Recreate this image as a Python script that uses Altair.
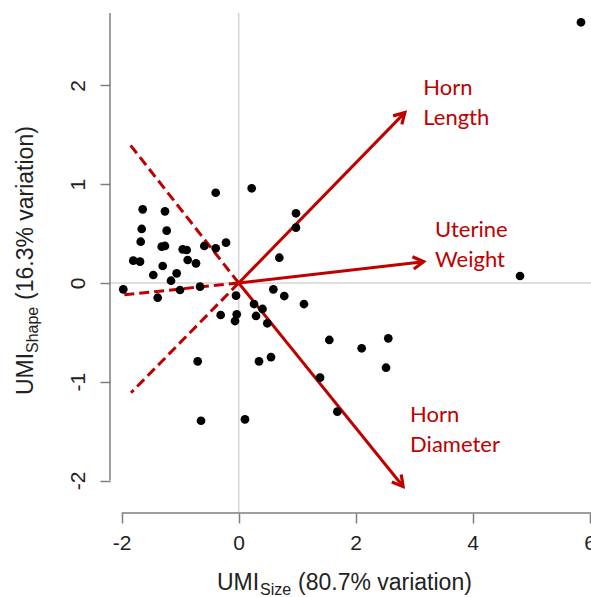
import math
import altair as alt
import pandas as pd

# ---------------- data ----------------
pc1 = [-0.393, 0.222, -1.641, -1.260, 0.979, -1.658, -1.231, 0.979, -1.675, -1.316,
       -1.260, -0.957, -0.889, -0.588, -0.393, -0.217, -1.802, -1.687, -0.872, -0.730,
       -1.299, 0.694, -1.460, -1.060, -1.157, -1.003, -0.661, -1.973, -1.385, -0.046,
       0.592, 0.779, 1.116, 0.262, 0.407, -0.308, -0.034, -0.063, 0.296, 0.489,
       1.549, -0.701, 0.347, 0.552, 1.390, 1.686, -0.644, 0.107, 2.102, 2.557,
       2.518, 4.809, 5.851]
pc2 = [0.914, 0.959, 0.746, 0.726, 0.706, 0.547, 0.530, 0.560, 0.418, 0.368,
       0.375, 0.341, 0.334, 0.375, 0.352, 0.408, 0.226, 0.216, 0.233, 0.199,
       0.172, 0.256, 0.081, 0.098, 0.023, -0.071, -0.037, -0.064, -0.149, -0.128,
       -0.064, -0.132, -0.213, -0.213, -0.263, -0.324, -0.317, -0.385, -0.334, -0.408,
       -0.577, -0.793, -0.793, -0.750, -0.959, -1.303, -1.395, -1.381, -0.661, -0.560,
       -0.858, 0.071, 2.640]

variables = ["Horn Length", "Uterine Weight", "Horn Diameter"]
arrow_x = [2.84, 3.16, 2.81]
arrow_y = [1.725, 0.216, -2.06]
dash_x = [-1.84, -2.0, -1.875]
dash_y = [-1.111, -0.122, 1.414]
label_text = ["Horn\nLength", "Uterine\nWeight", "Horn\nDiameter"]
label_x = [3.155, 3.356, 2.93]
label_y = [1.904, 0.466, -1.408]

x_ticks = [-2, 0, 2, 4, 6]
y_ticks = [-2, -1, 0, 1, 2]

x_title = ["UMI", "Size", "(80.7% variation)"]
y_title = ["UMI", "Shape", "(16.3% variation)"]

# ---------------- layout ----------------
W, H = 481, 500
X_DOM = [-2.2, 6.022]
Y_DOM = [-2.329, 2.734]
ppx = W / (X_DOM[1] - X_DOM[0])
ppy = H / (Y_DOM[1] - Y_DOM[0])

RED = "#BE0000"
AXC = "#7f7f7f"

xs = alt.Scale(domain=X_DOM, nice=False, zero=False)
ys = alt.Scale(domain=Y_DOM, nice=False, zero=False)

xa = alt.Axis(values=x_ticks, domain=False, grid=False, tickColor=AXC, tickWidth=1.5,
              tickSize=10, labelFontSize=21, labelFont="Liberation Sans", labelColor="#222222",
              labelPadding=9, labelFlush=False, labelOverlap=False, title=None,
              labelExpr="datum.value + ''")
ya = alt.Axis(values=y_ticks, domain=False, grid=False, tickColor=AXC, tickWidth=1.5,
              tickSize=10, labelFontSize=21, labelFont="Liberation Sans", labelColor="#222222",
              labelPadding=12, labelAngle=270, labelAlign="center", labelBaseline="bottom",
              labelFlush=False, labelOverlap=False, title=None,
              labelExpr="datum.value + ''")

pts = pd.DataFrame({"pc1": pc1, "pc2": pc2})
arr = pd.DataFrame({
    "var": variables, "x0": [0] * 3, "y0": [0] * 3,
    "ax": arrow_x, "ay": arrow_y, "dx": dash_x, "dy": dash_y,
    "lx": label_x, "ly": label_y, "lab": label_text,
})
arr["ang"] = [(math.degrees(math.atan2(-a_y * ppy, a_x * ppx)) + 360) % 360
              for a_x, a_y in zip(arrow_x, arrow_y)]

zero_df = pd.DataFrame({"v": [0]})

vline = alt.Chart(zero_df).mark_rule(color="#d4d4d4", strokeWidth=1.5).encode(
    x=alt.X("v:Q", scale=xs, axis=xa))
hline = alt.Chart(zero_df).mark_rule(color="#d4d4d4", strokeWidth=1.5).encode(
    y=alt.Y("v:Q", scale=ys, axis=ya))

ylo = pd.DataFrame({"lo": [y_ticks[0]]})
xlo = pd.DataFrame({"lo": [x_ticks[0]]})
yaxis_line = alt.Chart(ylo).mark_rule(color=AXC, strokeWidth=1.5).encode(
    x=alt.value(0), y=alt.Y("lo:Q", scale=ys, axis=ya), y2=alt.value(0))
xaxis_line = alt.Chart(xlo).mark_rule(color=AXC, strokeWidth=1.5).encode(
    y=alt.value(H), x=alt.X("lo:Q", scale=xs, axis=xa), x2=alt.value(W))

points = alt.Chart(pts).mark_circle(size=76, color="black", opacity=1).encode(
    x=alt.X("pc1:Q", scale=xs, axis=xa),
    y=alt.Y("pc2:Q", scale=ys, axis=ya),
)

dashes = alt.Chart(arr).mark_rule(color=RED, strokeWidth=3, strokeDash=[10, 5]).encode(
    x=alt.X("x0:Q", scale=xs, axis=xa), y=alt.Y("y0:Q", scale=ys, axis=ya),
    x2="dx:Q", y2="dy:Q")

arrows = alt.Chart(arr).mark_rule(color=RED, strokeWidth=3).encode(
    x=alt.X("x0:Q", scale=xs, axis=xa), y=alt.Y("y0:Q", scale=ys, axis=ya),
    x2="ax:Q", y2="ay:Q")

heads = alt.Chart(arr).mark_point(
    shape="M -1 -0.58 L 0 0 L -1 0.58", filled=False, color=RED, strokeWidth=3.2,
    size=440, opacity=1, strokeJoin="miter").encode(
    x=alt.X("ax:Q", scale=xs, axis=xa), y=alt.Y("ay:Q", scale=ys, axis=ya),
    angle=alt.Angle("ang:Q", scale=None))

labels = alt.Chart(arr).mark_text(
    align="left", baseline="alphabetic", font="Lato", fontSize=22, color=RED,
    lineBreak="\n", lineHeight=30).encode(
    x=alt.X("lx:Q", scale=xs, axis=xa), y=alt.Y("ly:Q", scale=ys, axis=ya), text="lab:N")

TF = "Liberation Sans"
def piece(txt, px, py, size, angle=0):
    return alt.Chart(pd.DataFrame({"t": [txt]})).mark_text(
        align="left", baseline="alphabetic", font=TF, fontSize=size, color="#222222",
        angle=angle).encode(x=alt.value(px), y=alt.value(py), text="t:N")

# x title (offsets relative to plot area)
xt = [piece(x_title[0], 107, 577, 23),
      piece(x_title[1], 150, 582, 16),
      piece(x_title[2], 188, 577, 23)]
# y title rotated
yt = [piece(y_title[0], -77, 382, 23, 270),
      piece(y_title[1], -72, 340, 16, 270),
      piece(y_title[2], -77, 287, 23, 270)]

chart = alt.layer(vline, hline, yaxis_line, xaxis_line, dashes, arrows, heads, points,
                  labels, *xt, *yt).properties(
    width=W, height=H,
    padding={"left": 110, "top": 13, "right": 0, "bottom": 84},
    autosize=alt.AutoSizeParams(type="none"),
    background="white",
).configure_view(stroke=None)

chart.save("out.html", embed_options={"renderer": "svg", "actions": False})
